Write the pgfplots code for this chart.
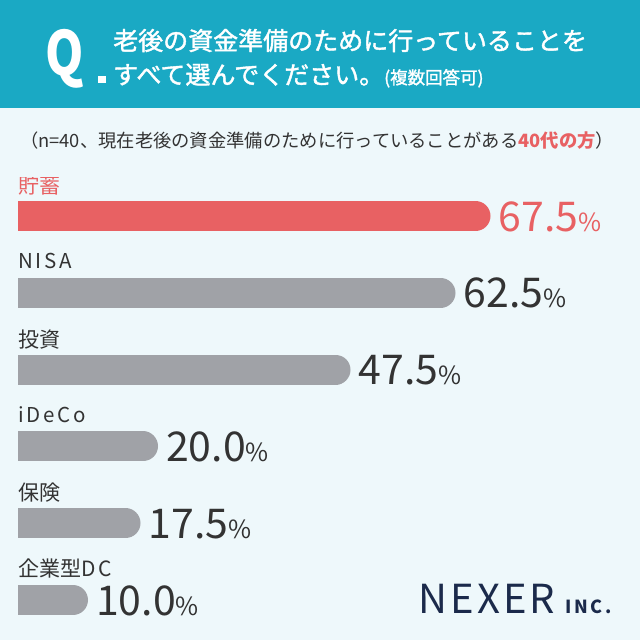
\documentclass[border=0pt]{standalone}
\usepackage{pgfplots}
\pgfplotsset{compat=1.18}
\usepackage{fontspec}
\setmainfont{Noto Sans CJK JP}
\newfontfamily\medfont{Noto Sans CJK JP}[FakeBold=1.6]
\newfontfamily\spaced{Noto Sans CJK JP}[LetterSpace=14]
\newfontfamily\logofont{Noto Sans CJK JP}[LetterSpace=8]
\newfontfamily\incfont{Noto Sans CJK JP}[LetterSpace=15]
\definecolor{hdr}{HTML}{1AA9C4}
\definecolor{bg}{HTML}{EEF8FB}
\definecolor{barred}{HTML}{E86163}
\definecolor{bargray}{HTML}{A0A2A7}
\definecolor{txt}{HTML}{333333}
\definecolor{navy}{HTML}{1B2A4B}
\begin{document}
\begin{tikzpicture}
\useasboundingbox (0pt,0pt) rectangle (640pt,640pt);
\fill[bg] (0pt,0pt) rectangle (640pt,640pt);
\fill[hdr] (0pt,532pt) rectangle (640pt,640pt);
\node[anchor=base west, inner sep=0pt, text=white, xscale=0.8, font=\fontsize{61}{61}\selectfont\bfseries] at (45pt,564pt) {Q};
\fill[white] (98pt,557pt) rectangle (105.5pt,563.5pt);
\node[anchor=base west, inner sep=0pt, text=white, font=\fontsize{25}{25}\selectfont\medfont] at (113pt,590pt) {老後の資金準備のために行っていることを};
\node[anchor=base west, inner sep=0pt, text=white, font=\fontsize{25}{25}\selectfont\medfont] at (113pt,556pt) {すべて選んでください。{\fontsize{17.5}{17.5}\selectfont (複数回答可)}};
\node[anchor=base west, inner sep=0pt, text=txt, font=\fontsize{18.3}{19}\selectfont] at (20pt,492pt) {（n=40、現在老後の資金準備のために行っていることがある\textcolor{barred}{\bfseries 40代の方}）};
\begin{axis}[
  at={(18pt,1.6pt)}, anchor=south west,
  scale only axis, width=622pt, height=460.8pt,
  xmin=2.142857, xmax=91, ymin=-0.5, ymax=5.5,
  axis lines=none, xtick=\empty, ytick=\empty,
]
\addplot[barred, line width=30pt, line cap=round, mark=none] coordinates {(0,5) (67.5,5)};
\addplot[bargray, line width=30pt, line cap=round, mark=none] coordinates {(0,4) (62.5,4)};
\addplot[bargray, line width=30pt, line cap=round, mark=none] coordinates {(0,3) (47.5,3)};
\addplot[bargray, line width=30pt, line cap=round, mark=none] coordinates {(0,2) (20.0,2)};
\addplot[bargray, line width=30pt, line cap=round, mark=none] coordinates {(0,1) (17.5,1)};
\addplot[bargray, line width=30pt, line cap=round, mark=none] coordinates {(0,0) (10.0,0)};
% category labels
\node[anchor=base west, inner sep=0pt, yshift=22.5pt, text=barred, font=\fontsize{21}{21}\selectfont] at (axis cs:2.142857,5) {貯蓄};
\node[anchor=base west, inner sep=0pt, yshift=24pt, text=txt, font=\fontsize{20.5}{20.5}\selectfont] at (axis cs:2.142857,4) {\spaced NISA};
\node[anchor=base west, inner sep=0pt, yshift=22.5pt, text=txt, font=\fontsize{21}{21}\selectfont] at (axis cs:2.142857,3) {投資};
\node[anchor=base west, inner sep=0pt, yshift=24pt, text=txt, font=\fontsize{20.5}{20.5}\selectfont] at (axis cs:2.142857,2) {\spaced iDeCo};
\node[anchor=base west, inner sep=0pt, yshift=22.5pt, text=txt, font=\fontsize{21}{21}\selectfont] at (axis cs:2.142857,1) {保険};
\node[anchor=base west, inner sep=0pt, yshift=24pt, text=txt, font=\fontsize{21}{21}\selectfont] at (axis cs:2.142857,0) {企業型{\spaced DC}};
% value labels
\node[anchor=base west, inner sep=0pt, xshift=23pt, yshift=-15pt, text=barred, font=\fontsize{41}{41}\selectfont] at (axis cs:67.5,5) {67.5{\fontsize{25}{25}\selectfont\%}};
\node[anchor=base west, inner sep=0pt, xshift=23pt, yshift=-15pt, text=txt, font=\fontsize{41}{41}\selectfont] at (axis cs:62.5,4) {62.5{\fontsize{25}{25}\selectfont\%}};
\node[anchor=base west, inner sep=0pt, xshift=23pt, yshift=-15pt, text=txt, font=\fontsize{41}{41}\selectfont] at (axis cs:47.5,3) {47.5{\fontsize{25}{25}\selectfont\%}};
\node[anchor=base west, inner sep=0pt, xshift=23pt, yshift=-15pt, text=txt, font=\fontsize{41}{41}\selectfont] at (axis cs:20.0,2) {20.0{\fontsize{25}{25}\selectfont\%}};
\node[anchor=base west, inner sep=0pt, xshift=23pt, yshift=-15pt, text=txt, font=\fontsize{41}{41}\selectfont] at (axis cs:17.5,1) {17.5{\fontsize{25}{25}\selectfont\%}};
\node[anchor=base west, inner sep=0pt, xshift=23pt, yshift=-15pt, text=txt, font=\fontsize{41}{41}\selectfont] at (axis cs:10.0,0) {10.0{\fontsize{25}{25}\selectfont\%}};
\end{axis}
\node[anchor=base west, inner sep=0pt, text=navy, font=\fontsize{40}{40}\selectfont\logofont] at (418pt,27pt) {NEXER};
\node[anchor=base west, inner sep=0pt, text=navy, font=\fontsize{18}{18}\selectfont\incfont\bfseries] at (565pt,27pt) {INC.};
\end{tikzpicture}
\end{document}
